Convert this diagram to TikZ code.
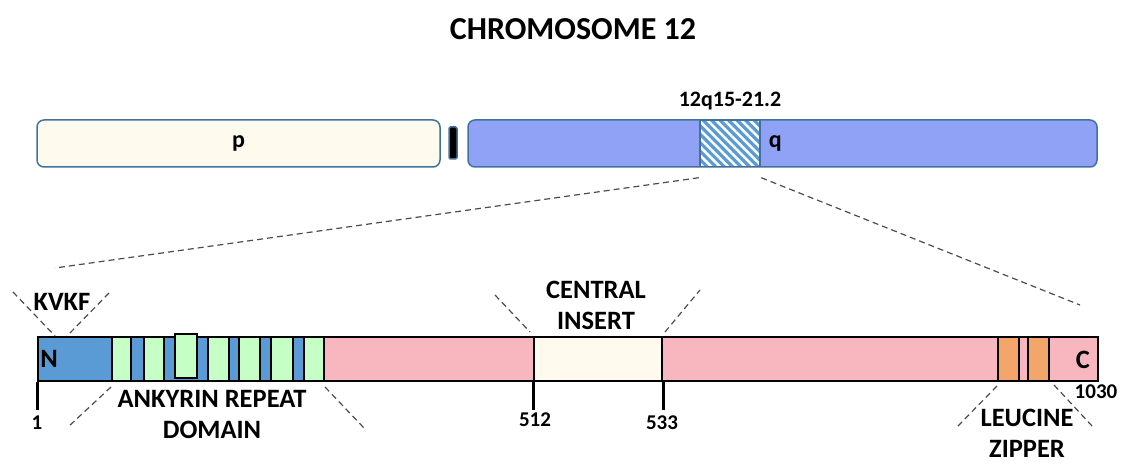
\documentclass[tikz,border=0pt]{standalone}
\usepackage{fontspec}
\setmainfont{Carlito}
\usetikzlibrary{patterns.meta}

\definecolor{armline}{RGB}{65,113,156}
\definecolor{pcream}{RGB}{254,250,238}
\definecolor{qblue}{RGB}{143,162,245}
\definecolor{hatchblue}{RGB}{91,155,213}
\definecolor{nblue}{RGB}{91,155,213}
\definecolor{repgreen}{RGB}{198,255,198}
\definecolor{midpink}{RGB}{248,182,190}
\definecolor{inscream}{RGB}{255,250,237}
\definecolor{lzorange}{RGB}{244,166,106}

\begin{document}
\begin{tikzpicture}[x=1pt,y=-1pt,
    lbl/.style={font=\fontsize{26.5}{31}\selectfont\bfseries, align=center, inner sep=0pt},
    num/.style={font=\fontsize{21}{24}\selectfont\bfseries, inner sep=0pt},
    arm/.style={draw=armline, line width=1.5pt, rounded corners=7pt, fill=#1, minimum height=47pt, inner sep=0pt},
    seg/.style={draw, line width=2pt, fill=#1, inner sep=0pt, minimum height=44pt, anchor=north west},
    tick/.style={line width=3pt},
    guide/.style={draw=black!70, line width=1.2pt, dash pattern=on 6pt off 4pt}]
\useasboundingbox (0,0) rectangle (1122,465);

\node[lbl, font=\fontsize{32}{38}\selectfont\bfseries] (title) at (573,29) {CHROMOSOME 12};

% chromosome 12, arms and centromere
\node[arm=pcream, minimum width=403pt] (parm) at (238.5,143.5) {};
\node[lbl, font=\fontsize{24}{28}\selectfont\bfseries] (plbl) at (parm.center) {p};
\node[draw=armline, fill=black, line width=1.5pt, rounded corners=1.5pt, minimum width=8pt, minimum height=32pt, inner sep=0pt] (cen) at (453,143) {};
\node[arm=qblue, minimum width=629pt] (qarm) at (782.5,143.5) {};
\node[draw=armline, line width=1.5pt, inner sep=0pt, minimum width=60pt, minimum height=46pt,
      preaction={fill=hatchblue}, pattern={Lines[angle=-45,distance=6pt,line width=2.5pt]},
      pattern color=white] (band) at (730,143.5) {};
\node[lbl, font=\fontsize{24}{28}\selectfont\bfseries] (qlbl) at ([xshift=14pt]band.east) {q};
\node[lbl, font=\fontsize{22}{26}\selectfont\bfseries] (bandlbl) at (730,101) {12q15-21.2};

\coordinate (zoomL) at (55,268);
\coordinate (zoomR) at (1080,305);
\draw[guide] ([yshift=-10pt]band.south west) -- (zoomL);
\draw[guide] ([yshift=-10pt]band.south east) -- (zoomR);

% protein bar
\node[seg=midpink, minimum width=1060pt] (bar) at (37,336) {};
\node[seg=nblue, minimum width=286pt] (ank) at (37,336) {};
\foreach \x/\w/\t [count=\i] in {111/19/336, 143/20/336, 174/22/333, 207/21/336, 238/21/336, 270/22/336, 303/20/336}
  \node[seg=repgreen, minimum width=\w pt] (rep\i) at (\x,\t) {};
\node[seg=inscream, minimum width=128pt] (ins) at (533,336) {};
\node[seg=lzorange, minimum width=21pt] (lz1) at (997,336) {};
\node[seg=lzorange, minimum width=21pt] (lz2) at (1027,336) {};
\node[lbl] (nterm) at (49,359) {N};
\node[lbl] (cterm) at (1083,360) {C};

% residue ticks
\draw[tick] (bar.south west) -- ++(0,28);
\draw[tick] (ins.south west) -- ++(0,28);
\draw[tick] (ins.south east) -- ++(0,28);
\node[num] (r1) at (37,423) {1};
\node[num] (r512) at (535,420) {512};
\node[num] (r533) at (662,423) {533};
\node[num] (r1030) at (1096,392) {1030};

% domain labels and their guides
\node[lbl] (kvkf) at (62,302) {KVKF};
\coordinate (kvL) at (13,292);
\coordinate (kvR) at (109,293);
\draw[guide] (kvL) -- ([xshift=18pt]bar.north west);
\draw[guide] (kvR) -- ([xshift=30pt]bar.north west);

\node[lbl] (ankyrin) at (212,414) {ANKYRIN REPEAT\\DOMAIN};
\coordinate (ankL) at (68,427);
\coordinate (ankR) at (364,428);
\draw[guide] ([yshift=-5pt]rep1.south west) -- (ankL);
\draw[guide] ([yshift=-5pt]rep7.south east) -- (ankR);

\node[lbl] (central) at (596,305) {CENTRAL\\INSERT};
\coordinate (insL) at (495,295);
\coordinate (insR) at (700,290);
\draw[guide] (insL) -- ([xshift=-3pt,yshift=4pt]ins.north west);
\draw[guide] ([xshift=2pt,yshift=4pt]ins.north east) -- (insR);

\node[lbl, text depth=0pt] (leucine) at (1027,433) {LEUCINE\\ZIPPER};
\coordinate (lzL) at (957,427);
\coordinate (lzR) at (1093,427);
\draw[guide] ([yshift=-4pt]lz1.south west) -- (lzL);
\draw[guide] ([xshift=4pt,yshift=-3pt]lz2.south east) -- (lzR);
\end{tikzpicture}
\end{document}
